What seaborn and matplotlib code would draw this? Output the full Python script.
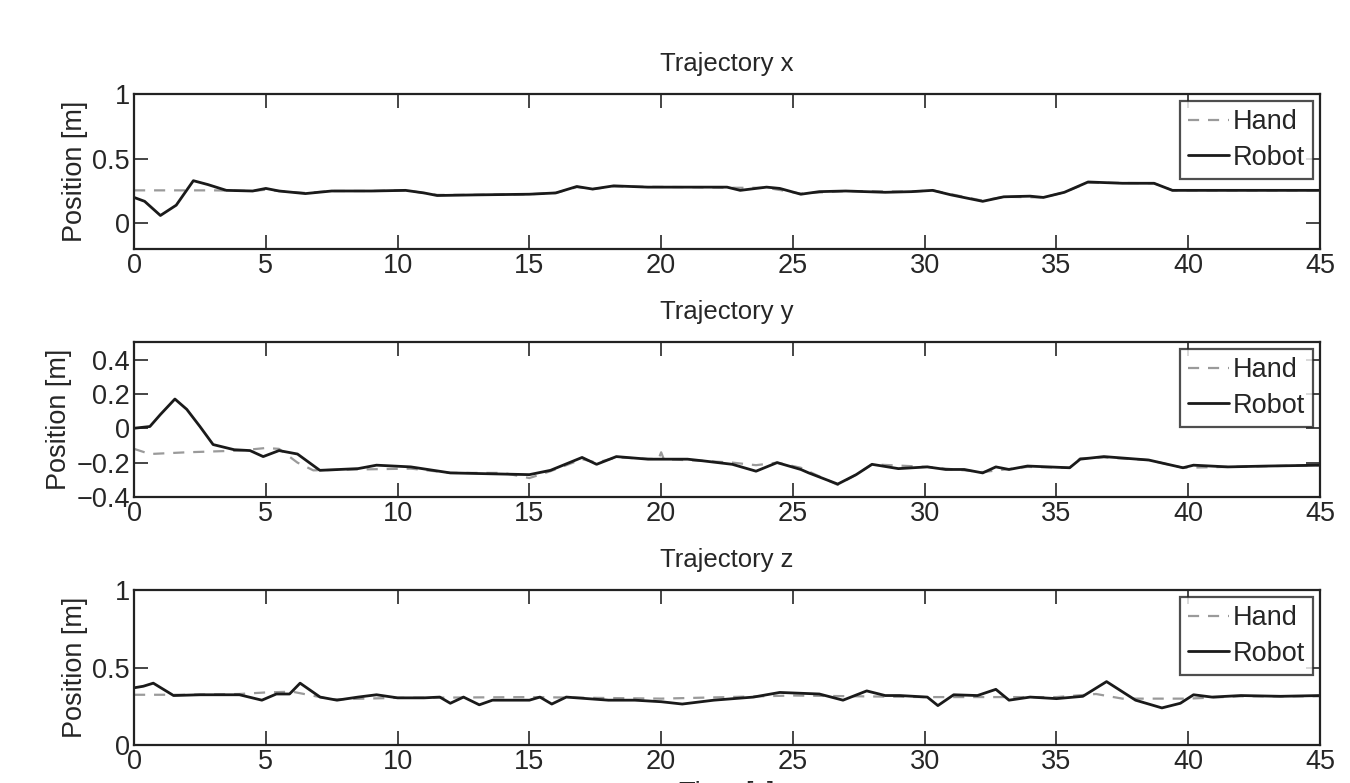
import pandas as pd
import matplotlib
matplotlib.use("Agg")
import matplotlib.pyplot as plt
import seaborn as sns

# ---- data ----
x_robot_t = [0, 0.4, 1.0, 1.6, 2.25, 2.8, 3.5, 4.5, 5.0, 5.5, 6.5, 7.5, 9.0, 10.3, 11.0, 11.5, 13.0,
             15.0, 16.0, 16.8, 17.4, 18.2, 19.5, 21.0, 22.5, 23.0, 24.0, 24.5, 25.3, 26.0, 27.0, 28.5,
             29.5, 30.3, 31.0, 32.2, 33.0, 34.0, 34.5, 35.3, 36.2, 37.5, 38.7, 39.4, 40.5, 42.0, 45.0]
x_robot = [0.20, 0.17, 0.06, 0.14, 0.33, 0.30, 0.255, 0.25, 0.27, 0.25, 0.23, 0.25, 0.25, 0.255, 0.235, 0.215, 0.22,
           0.225, 0.235, 0.285, 0.265, 0.29, 0.28, 0.28, 0.28, 0.255, 0.28, 0.27, 0.225, 0.245, 0.25, 0.24,
           0.245, 0.255, 0.22, 0.17, 0.205, 0.21, 0.20, 0.24, 0.32, 0.31, 0.31, 0.255, 0.255, 0.255, 0.255]
x_hand_t = [0, 3.0, 4.5, 5.0, 5.5, 6.5, 7.5, 9.0, 10.3, 11.5, 13.0, 15.0, 16.0, 16.8, 17.4, 18.2, 21.0,
            22.5, 24.0, 25.3, 27.0, 29.5, 30.3, 32.2, 33.0, 34.5, 35.3, 36.2, 38.7, 39.4, 42.0, 45.0]
x_hand = [0.255, 0.255, 0.25, 0.26, 0.25, 0.235, 0.25, 0.25, 0.255, 0.22, 0.22, 0.225, 0.235, 0.28, 0.265, 0.285, 0.28,
          0.275, 0.275, 0.23, 0.25, 0.245, 0.255, 0.175, 0.205, 0.20, 0.24, 0.315, 0.31, 0.255, 0.255, 0.255]

y_robot_t = [0, 0.6, 1.0, 1.55, 2.0, 2.5, 3.0, 3.8, 4.4, 4.9, 5.5, 6.2, 7.05, 8.5, 9.2, 10.5, 12.0,
             13.5, 15.0, 15.8, 17.0, 17.55, 18.3, 19.5, 21.0, 21.6, 22.7, 23.6, 24.4, 25.3, 25.6, 26.7,
             27.4, 28.0, 29.0, 30.1, 30.8, 31.5, 32.2, 32.7, 33.2, 33.9, 35.5, 35.9, 36.8, 38.5, 39.8,
             40.2, 41.5, 43.0, 45.0]
y_robot = [0.0, 0.01, 0.08, 0.17, 0.11, 0.01, -0.095, -0.125, -0.13, -0.165, -0.13, -0.15, -0.245, -0.235, -0.215, -0.225, -0.26,
           -0.265, -0.27, -0.245, -0.17, -0.21, -0.165, -0.18, -0.18, -0.19, -0.21, -0.25, -0.20, -0.24, -0.26, -0.325,
           -0.27, -0.21, -0.235, -0.225, -0.24, -0.24, -0.26, -0.225, -0.24, -0.22, -0.23, -0.18, -0.165, -0.185, -0.23,
           -0.215, -0.225, -0.22, -0.215]
y_hand_t = [0, 0.6, 2.0, 4.0, 5.0, 5.5, 6.2, 6.8, 8.5, 10.5, 12.0, 14.0, 15.0, 15.8, 17.0, 17.55, 18.3,
            19.9, 20.0, 20.1, 21.6, 22.7, 23.6, 24.4, 25.3, 26.7, 27.4, 28.0, 30.1, 32.2, 33.9, 35.5,
            35.9, 36.8, 38.5, 39.8, 41.5, 45.0]
y_hand = [-0.12, -0.15, -0.14, -0.13, -0.115, -0.12, -0.20, -0.245, -0.24, -0.235, -0.26, -0.26, -0.29, -0.25, -0.18, -0.20, -0.17,
          -0.18, -0.14, -0.18, -0.19, -0.20, -0.215, -0.20, -0.23, -0.33, -0.27, -0.21, -0.225, -0.255, -0.225, -0.23,
          -0.175, -0.17, -0.185, -0.23, -0.225, -0.215]

z_robot_t = [0, 0.35, 0.73, 1.5, 2.5, 4.0, 4.85, 5.4, 5.9, 6.3, 7.06, 7.7, 8.5, 9.2, 10.0, 11.0, 11.6,
             12.0, 12.5, 13.1, 13.6, 15.0, 15.4, 15.85, 16.4, 18.0, 19.0, 20.0, 20.8, 22.0, 23.5, 24.5,
             26.0, 26.9, 27.8, 28.5, 29.06, 30.1, 30.5, 31.1, 32.0, 32.7, 33.2, 34.0, 35.0, 36.0, 36.9,
             38.0, 39.0, 39.7, 40.2, 40.9, 42.0, 43.5, 45.0]
z_robot = [0.37, 0.38, 0.40, 0.32, 0.325, 0.325, 0.29, 0.33, 0.33, 0.40, 0.31, 0.29, 0.31, 0.325, 0.305, 0.305, 0.31,
           0.27, 0.31, 0.26, 0.29, 0.29, 0.31, 0.265, 0.31, 0.29, 0.29, 0.28, 0.265, 0.29, 0.31, 0.34,
           0.33, 0.29, 0.35, 0.32, 0.32, 0.31, 0.255, 0.325, 0.32, 0.36, 0.29, 0.31, 0.30, 0.315, 0.41,
           0.29, 0.24, 0.27, 0.325, 0.31, 0.32, 0.315, 0.32]
z_hand_t = [0, 2.0, 4.0, 5.0, 6.0, 7.5, 10.0, 15.0, 20.0, 25.0, 30.0, 35.0, 36.5, 37.5, 40.0, 42.0, 45.0]
z_hand = [0.325, 0.325, 0.33, 0.34, 0.345, 0.295, 0.305, 0.31, 0.30, 0.32, 0.31, 0.31, 0.33, 0.30, 0.30, 0.315, 0.315]

titles = ["Trajectory x", "Trajectory y", "Trajectory z"]
ylims = [(-0.2, 1), (-0.4, 0.5), (0, 1)]
yticks = [[0, 0.5, 1], [-0.4, -0.2, 0, 0.2, 0.4], [0, 0.5, 1]]
yticklabels = [["0", "0.5", "1"], ["\u22120.4", "\u22120.2", "0", "0.2", "0.4"], ["0", "0.5", "1"]]
xticks = list(range(0, 50, 5))

sns.set_style("ticks")
plt.rcParams['font.family'] = ['Liberation Sans', 'DejaVu Sans']
plt.rcParams['font.size'] = 18

fig = plt.figure(figsize=(13.5, 7.83), dpi=100)
bottoms = [0.682, 0.3653, 0.0485]
series = [(x_hand_t, x_hand, x_robot_t, x_robot),
          (y_hand_t, y_hand, y_robot_t, y_robot),
          (z_hand_t, z_hand, z_robot_t, z_robot)]

for i, (ht, hv, rt, rv) in enumerate(series):
    ax = fig.add_axes([0.0993, bottoms[i], 0.8785, 0.1975])
    sns.lineplot(x=ht, y=hv, ax=ax, color='#9a9a9a', linestyle=(0, (5, 4)), linewidth=1.6, label='Hand', sort=False)
    sns.lineplot(x=rt, y=rv, ax=ax, color='#1a1a1a', linewidth=2.0, label='Robot', sort=False)
    ax.set_xlim(0, 45)
    ax.set_ylim(*ylims[i])
    ax.set_xticks(xticks)
    ax.set_xticklabels([str(v) for v in xticks])
    ax.set_yticks(yticks[i])
    ax.set_yticklabels(yticklabels[i])
    ax.tick_params(direction='in', top=True, right=True, length=10, width=1.2, labelsize=19.5, pad=3)
    for s in ax.spines.values():
        s.set_linewidth(1.6)
        s.set_color('#222222')
    ax.set_title(titles[i], fontsize=18.5, pad=17)
    ax.set_ylabel("Position [m]", fontsize=19.5, labelpad=3)
    leg = ax.legend(loc='upper right', frameon=True, fancybox=False, fontsize=19.5,
                    handlelength=1.5, handletextpad=0.15, borderpad=0.3, labelspacing=0.35,
                    borderaxespad=0.25)
    leg.get_frame().set_edgecolor('#222222')
    leg.get_frame().set_linewidth(1.6)
    if i == 2:
        ax.set_xlabel("Time [s]", fontsize=19.5)

fig.savefig("out.png", dpi=100)
